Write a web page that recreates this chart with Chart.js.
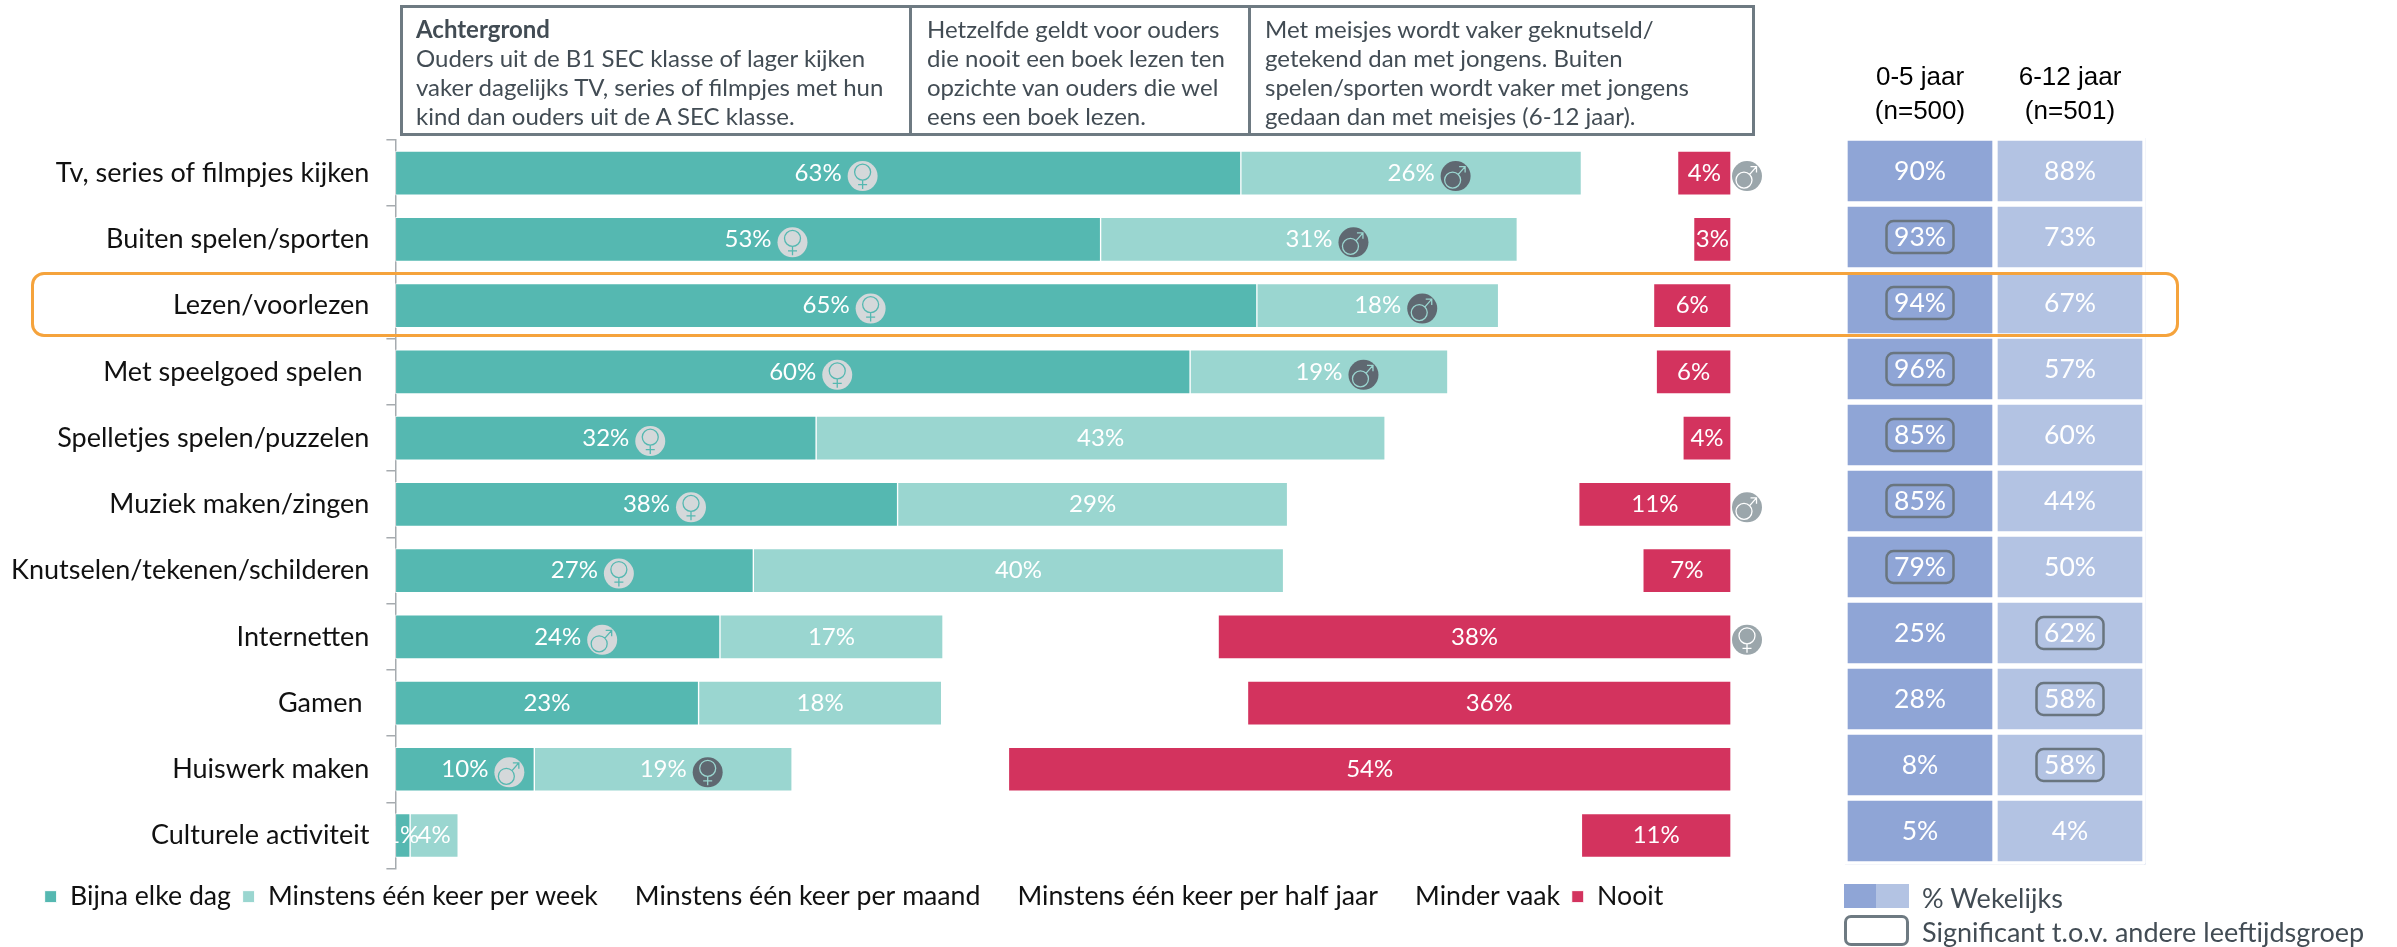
<!DOCTYPE html>
<html><head><meta charset="utf-8">
<style>
html,body{margin:0;padding:0;background:#fff;width:2397px;height:947px;overflow:hidden}
canvas{position:absolute}
.t{position:absolute;font-family:Lato,sans-serif;white-space:pre;color:#424c54}
.box{position:absolute;box-sizing:border-box;border:3px solid #6e7a82;font:24px/29px Lato,sans-serif;color:#424c54;white-space:pre;top:5px;height:131px;padding:6px 0 0 13px}
.hd{position:absolute;font:26px/34px "Liberation Sans",Arial,sans-serif;color:#000;text-align:center;white-space:pre;width:160px;top:59px}
</style>
</head><body>
<canvas id="main" width="2397" height="947" style="left:0;top:0"></canvas>
<canvas id="side" width="301" height="727" style="left:1845px;top:138px"></canvas>

<div class="box" style="left:400px;width:512px"><b>Achtergrond</b>
Ouders uit de B1 SEC klasse of lager kijken
vaker dagelijks TV, series of filmpjes met hun
kind dan ouders uit de A SEC klasse.</div>
<div class="box" style="left:909px;width:342px;padding-left:15px">Hetzelfde geldt voor ouders
die nooit een boek lezen ten
opzichte van ouders die wel
eens een boek lezen.</div>
<div class="box" style="left:1248px;width:507px;padding-left:14px">Met meisjes wordt vaker geknutseld/
getekend dan met jongens. Buiten
spelen/sporten wordt vaker met jongens
gedaan dan met meisjes (6-12 jaar).</div>

<div class="hd" style="left:1840px">0-5 jaar
(n=500)</div>
<div class="hd" style="left:1990px">6-12 jaar
(n=501)</div>

<div style="position:absolute;left:31px;top:272px;width:2148px;height:65px;box-sizing:border-box;border:3px solid #f5a33c;border-radius:13px"></div>

<div style="position:absolute;left:1844px;top:884px;width:32px;height:24px;background:#8fa5d6"></div>
<div style="position:absolute;left:1876px;top:884px;width:33px;height:24px;background:#b3c3e3"></div>
<div style="position:absolute;left:1844px;top:915px;width:65px;height:31px;box-sizing:border-box;border:3px solid #6e7a82;border-radius:7px"></div>
<div class="t" style="left:1922px;top:883px;font-size:27px;line-height:30px">% Wekelijks</div>
<div class="t" style="left:1922px;top:917px;font-size:27px;line-height:30px">Significant t.o.v. andere leeftijdsgroep</div>

<script src="https://cdn.jsdelivr.net/npm/chart.js@4"></script>
<script>
const categories = ['Tv, series of filmpjes kijken','Buiten spelen/sporten','Lezen/voorlezen','Met speelgoed spelen ','Spelletjes spelen/puzzelen','Muziek maken/zingen','Knutselen/tekenen/schilderen','Internetten','Gamen ','Huiswerk maken','Culturele activiteit'];
const bijnaElkeDag   = [63.3,52.8,64.5,59.5,31.5,37.6,26.8,24.3,22.7,10.4,1.1];
const perWeek        = [25.5,31.2,18.1,19.3,42.6,29.2,39.7,16.7,18.2,19.3,3.6];
const perMaand       = [4.0,7.0,6.0,8.0,12.0,11.0,15.0,9.0,10.0,7.0,24.0];
const perHalfJaar    = [2.0,4.0,3.5,5.0,7.0,6.0,8.0,6.0,7.0,5.0,25.0];
const minderVaak     = [1.2,2.2,2.1,2.6,3.3,4.8,3.9,5.6,5.9,4.2,35.1];
const nooit          = [4.0,2.8,5.8,5.6,3.6,11.4,6.6,38.4,36.2,54.1,11.2];
const iconsDag   = ['f','f','f','f','f','f','f','m','','m',''];
const iconsWeek  = ['m','m','m','m','','','','','','f',''];
const iconsNooit = ['m','','','','','m','','f','','',''];
const jaar0to5   = [90,93,94,96,85,85,79,25,28,8,5];
const jaar6to12  = [88,73,67,57,60,44,50,62,58,58,4];
const sig0to5    = [0,1,1,1,1,1,1,0,0,0,0];
const sig6to12   = [0,0,0,0,0,0,0,1,1,1,0];
const columns    = ['0-5 jaar','6-12 jaar'];

const TEAL='#55b8b1', LIGHT='#9ad6d0', RED='#d3335e';
const FONT='Lato, sans-serif';

function drawIcon(ctx,x,y,kind,fill,sym){
  ctx.save();
  ctx.beginPath();ctx.arc(x,y,15,0,Math.PI*2);ctx.fillStyle=fill;ctx.fill();
  ctx.strokeStyle=sym;ctx.lineWidth=1.3;ctx.beginPath();
  if(kind==='f'){
    ctx.moveTo(x+8,y-4);ctx.arc(x,y-4,8,0,Math.PI*2);
    ctx.moveTo(x,y+4);ctx.lineTo(x,y+13);
    ctx.moveTo(x-4.5,y+8.5);ctx.lineTo(x+4.5,y+8.5);
  }else{
    ctx.moveTo(x+5,y+4);ctx.arc(x-3,y+4,8,0,Math.PI*2);
    ctx.moveTo(x+2.7,y-1.7);ctx.lineTo(x+9.5,y-9.5);
    ctx.moveTo(x+3.5,y-9.5);ctx.lineTo(x+9.5,y-9.5);ctx.lineTo(x+9.5,y-3.5);
  }
  ctx.stroke();ctx.restore();
}

const barLabels={id:'barLabels',
  afterLayout(chart){chart.legend.left=33;},
  afterDatasetsDraw(chart){
  const ctx=chart.ctx;
  ctx.save();ctx.font='24px '+FONT;ctx.textAlign='center';ctx.textBaseline='middle';ctx.fillStyle='#fff';
  const show=[0,1,5];
  const icons={0:[iconsDag,'#d4d8da',TEAL],1:[iconsWeek,'#5f6871',LIGHT]};
  show.forEach(di=>{
    const meta=chart.getDatasetMeta(di);
    meta.data.forEach((el,i)=>{
      const v=chart.data.datasets[di].data[i];
      const cx=(el.x+el.base)/2;
      ctx.fillStyle='#fff';
      ctx.fillText(Math.round(v)+'%',cx,el.y);
      if(icons[di]&&icons[di][0][i]) drawIcon(ctx,cx+44.5,el.y+3,icons[di][0][i],icons[di][1],icons[di][2]);
      if(di===5&&iconsNooit[i]) drawIcon(ctx,el.x+16,el.y+3,iconsNooit[i],'#9ba6ab','#fff');
    });
  });
  ctx.restore();
}};

function ds(label,data,color,visible){
  return {label,data,backgroundColor:color,borderColor:visible?'#fff':'transparent',borderWidth:1,borderSkipped:false,barThickness:44};
}
new Chart(document.getElementById('main'),{
  type:'bar',
  data:{labels:categories,datasets:[
    ds('Bijna elke dag',bijnaElkeDag,TEAL,true),
    ds('Minstens één keer per week',perWeek,LIGHT,true),
    ds('Minstens één keer per maand',perMaand,'transparent',false),
    ds('Minstens één keer per half jaar',perHalfJaar,'transparent',false),
    ds('Minder vaak',minderVaak,'transparent',false),
    ds('Nooit',nooit,RED,true)
  ]},
  options:{
    responsive:false,animation:false,indexAxis:'y',
    layout:{padding:{left:0,right:666,top:140,bottom:27}},
    scales:{
      x:{stacked:true,min:0,max:100,display:true,ticks:{display:false},grid:{display:false},border:{display:false},afterFit(s){s.height=3;}},
      y:{stacked:true,afterFit(s){s.width=395.4;},
         grid:{display:true,drawOnChartArea:false,drawTicks:true,tickLength:9,color:'#a6abaf',lineWidth:1.5},
         border:{display:true,color:'#a6abaf',width:1.5},
         ticks:{color:'#111',font:{family:FONT,size:27},padding:17,autoSkip:false}}
    },
    plugins:{
      tooltip:{enabled:false},
      legend:{display:true,position:'bottom',align:'start',
        labels:{boxWidth:12,boxHeight:12,padding:11.65,color:'#111',font:{family:FONT,size:26.7}}}
    }
  },
  plugins:[barLabels]
});

/* right-hand table of weekly percentages */
const sideLabels={id:'sideLabels',afterDatasetsDraw(chart){
  const ctx=chart.ctx;
  ctx.save();ctx.textAlign='center';ctx.textBaseline='middle';
  chart.data.datasets.forEach((d,di)=>{
    chart.getDatasetMeta(di).data.forEach((el,i)=>{
      const cx=(el.x+el.base)/2, pt=d.data[i];
      if(pt.sig){
        ctx.beginPath();ctx.roundRect(cx-33.5,el.y-16,67,32,7);
        ctx.strokeStyle='#69757f';ctx.lineWidth=2.5;ctx.stroke();
      }
      ctx.font='26.5px '+FONT;ctx.fillStyle='#fff';
      ctx.fillText(pt.pct+'%',cx,el.y);
    });
  });
  ctx.restore();
}};
const toRows=(vals,sig)=>vals.map((pct,i)=>({y:categories[i],x:1,pct,sig:sig[i]}));
const cell=(label,vals,sig,color)=>({label,data:toRows(vals,sig),backgroundColor:color,borderColor:'#fff',borderWidth:3,borderSkipped:false,categoryPercentage:1,barPercentage:1});
new Chart(document.getElementById('side'),{
  type:'bar',
  data:{labels:categories,datasets:[cell(columns[0],jaar0to5,sig0to5,'#8fa5d6'),cell(columns[1],jaar6to12,sig6to12,'#b3c3e3')]},
  options:{
    responsive:false,animation:false,indexAxis:'y',
    layout:{padding:0},
    scales:{
      x:{stacked:true,min:0,max:2,ticks:{display:false},grid:{display:false},border:{display:true,color:'#e8ecf6',width:1.5},afterFit(s){s.height=1;}},
      y:{stacked:true,position:'right',ticks:{display:false},grid:{display:false},border:{display:true,color:'#e8ecf6',width:1.5},afterFit(s){s.width=1;}}
    },
    plugins:{legend:{display:false},tooltip:{enabled:false}}
  },
  plugins:[sideLabels]
});
</script>
</body></html>
